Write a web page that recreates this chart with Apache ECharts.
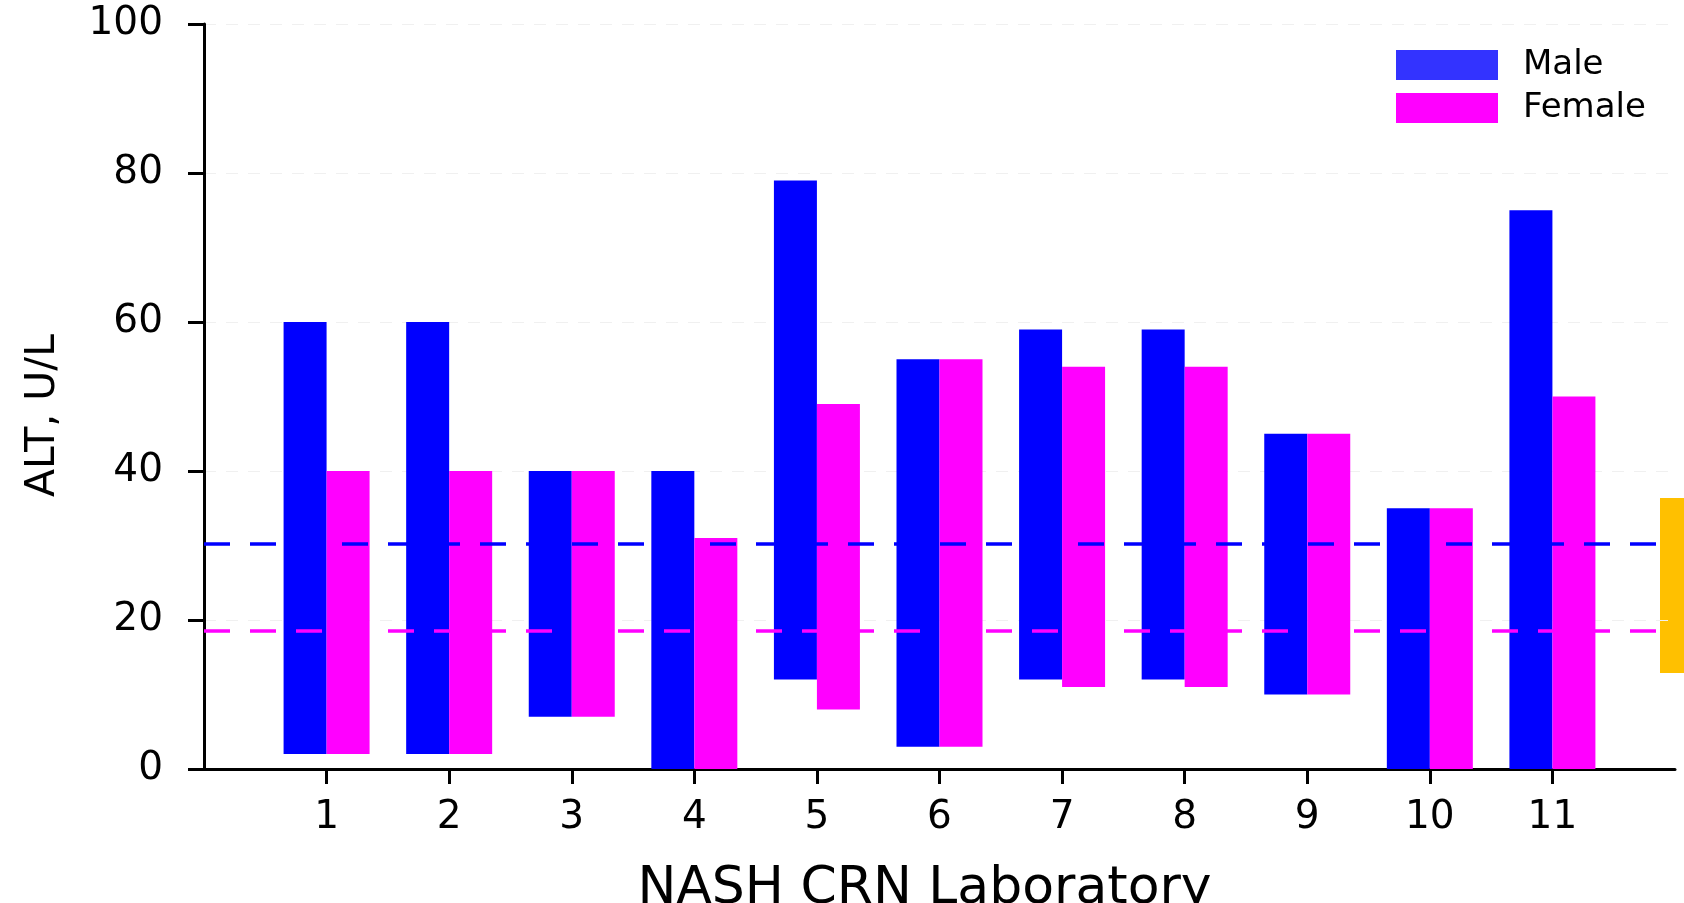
<!DOCTYPE html>
<html>
<head>
<meta charset="utf-8">
<title>ALT ULN by NASH CRN laboratory</title>
<script src="https://cdn.jsdelivr.net/npm/echarts@6/dist/echarts.min.js"></script>
<style>
  html, body { margin: 0; padding: 0; background: #fff; }
  #chart { width: 1684px; height: 903px; }
</style>
</head>
<body>
<div id="chart"></div>
<script>
  // lab numbers on the x axis
  var labs = ['1', '2', '3', '4', '5', '6', '7', '8', '9', '10', '11'];
  // ALT reference range per lab (low / high), U/L
  var maleLow    = [2, 2, 7, 0, 12, 3, 12, 12, 10, 0, 0];
  var maleHigh   = [60, 60, 40, 40, 79, 55, 59, 59, 45, 35, 75];
  var femaleLow  = [2, 2, 7, 0, 8, 3, 11, 11, 10, 0, 0];
  var femaleHigh = [40, 40, 40, 31, 49, 55, 54, 54, 45, 35, 50];
  // dashed reference lines
  var maleRef = 30.3;
  var femaleRef = 18.6;

  var font = 'DejaVu Sans';

  // one empty slot on each side so lab 1..11 sit on ticks 1..11 of 0..12
  const pad = arr => [null].concat(arr, [null]);
  const span = (lo, hi) => hi.map((v, i) => v - lo[i]);
  var cats = pad(labs).map(c => c === null ? '' : c);

  var myChart = echarts.init(document.getElementById('chart'));
  var option = {
    animation: false,
    backgroundColor: '#fff',
    grid: { left: 204, right: 9, top: 24, bottom: 134, outerBoundsMode: 'none' },
    legend: {
      orient: 'vertical',
      left: 1391,
      top: 43,
      icon: 'rect',
      itemWidth: 102,
      itemHeight: 30,
      itemGap: 9,
      selectedMode: false,
      textStyle: { fontFamily: font, fontSize: 34, color: '#000', padding: [0, 0, 0, 20] },
      data: [
        { name: 'Male', itemStyle: { color: '#3333ff' } },
        { name: 'Female', itemStyle: { color: '#ff00ff' } }
      ]
    },
    xAxis: {
      type: 'category',
      data: cats,
      boundaryGap: false,
      name: 'NASH CRN Laboratory',
      nameLocation: 'middle',
      nameGap: 94,
      nameTextStyle: { fontFamily: font, fontSize: 52, color: '#000', padding: [0, 30, 0, 0] },
      axisLine: { lineStyle: { color: '#000', width: 3 } },
      axisTick: {
        length: 15,
        lineStyle: { color: '#000', width: 3 },
        interval: function (idx) { return idx > 0 && idx < cats.length - 1; }
      },
      axisLabel: { interval: 0, margin: 29, fontFamily: font, fontSize: 39, color: '#000' },
      splitLine: { show: false }
    },
    yAxis: {
      type: 'value',
      min: 0,
      max: 100,
      interval: 20,
      name: 'ALT, U/L',
      nameLocation: 'middle',
      nameRotate: 90,
      nameGap: 140,
      nameTextStyle: { fontFamily: font, fontSize: 41, color: '#000', padding: [0, 38, 0, 0] },
      axisLine: { show: true, lineStyle: { color: '#000', width: 3 } },
      axisTick: { show: true, length: 16, lineStyle: { color: '#000', width: 3 } },
      axisLabel: { margin: 41, fontFamily: font, fontSize: 39, color: '#000' },
      splitLine: { show: true, lineStyle: { color: '#f0f0f0', width: 1, type: [12, 10] } }
    },
    graphic: [
      { type: 'rect', shape: { x: 1660, y: 498, width: 24, height: 175 }, style: { fill: '#ffc000' } }
    ],
    series: [
      {
        name: 'mBase', type: 'bar', stack: 'm', barWidth: 43, barGap: '0%',
        itemStyle: { color: 'transparent' }, silent: true,
        data: pad(maleLow)
      },
      {
        name: 'Male', type: 'bar', stack: 'm', barWidth: 43, barGap: '0%',
        itemStyle: { color: '#0000ff' },
        data: pad(span(maleLow, maleHigh))
      },
      {
        name: 'fBase', type: 'bar', stack: 'f', barWidth: 43, barGap: '0%',
        itemStyle: { color: 'transparent' }, silent: true,
        data: pad(femaleLow)
      },
      {
        name: 'Female', type: 'bar', stack: 'f', barWidth: 43, barGap: '0%',
        itemStyle: { color: '#ff00ff' },
        data: pad(span(femaleLow, femaleHigh)),
        markLine: {
          silent: true,
          z: 10,
          symbol: ['none', 'none'],
          label: { show: false },
          data: [
            { yAxis: maleRef, lineStyle: { color: '#0000ff', width: 3.5, type: [26, 20] } },
            { yAxis: femaleRef, lineStyle: { color: '#ff00ff', width: 3.5, type: [26, 20] } }
          ]
        }
      }
    ]
  };
  myChart.setOption(option);
</script>
</body>
</html>
